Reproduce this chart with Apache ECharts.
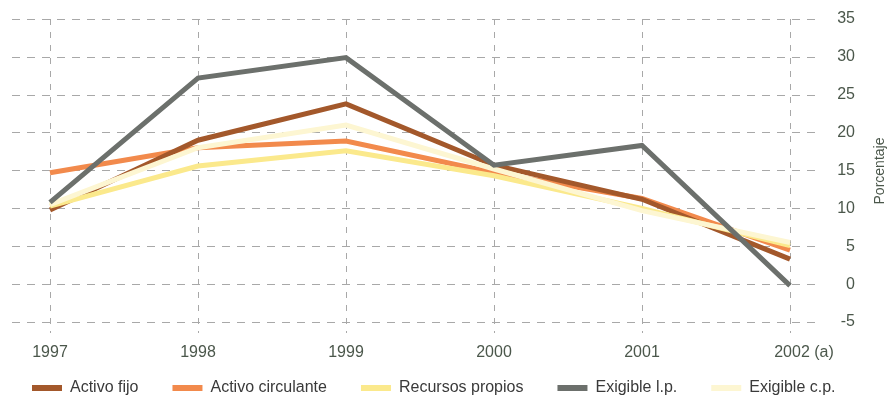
<!DOCTYPE html>
<html>
<head>
<meta charset="utf-8">
<script src="https://cdn.jsdelivr.net/npm/echarts@6/dist/echarts.min.js"></script>
<style>
  html, body { margin: 0; padding: 0; background: #ffffff; }
  #chart { width: 887px; height: 397px; }
</style>
</head>
<body>
<div id="chart"></div>
<script>
  // años y valores (porcentaje)
  var years = ["1997", "1998", "1999", "2000", "2001", "2002 (a)"];
  var activoFijo = [9.8, 19.0, 23.8, 15.7, 11.2, 3.3];
  var activoCirculante = [14.7, 18.0, 18.9, 14.7, 11.3, 4.5];
  var recursosPropios = [10.3, 15.6, 17.6, 14.3, 10.0, 5.1];
  var exigibleLP = [10.8, 27.2, 29.9, 15.7, 18.3, -0.2];
  var exigibleCP = [10.5, 18.0, 21.0, 15.2, 9.7, 5.5];
  var yTicks = [-5, 0, 5, 10, 15, 20, 25, 30, 35];

  var names = ["Activo fijo", "Activo circulante", "Recursos propios", "Exigible l.p.", "Exigible c.p."];
  var colors = {
    "Activo fijo": "#a3582b",
    "Activo circulante": "#f28a4c",
    "Recursos propios": "#fbe98c",
    "Exigible l.p.": "#6c706c",
    "Exigible c.p.": "#fdf6d2"
  };
  var values = {
    "Activo fijo": activoFijo,
    "Activo circulante": activoCirculante,
    "Recursos propios": recursosPropios,
    "Exigible l.p.": exigibleLP,
    "Exigible c.p.": exigibleCP
  };
  // orden de dibujo (el gris encima)
  var drawOrder = ["Activo circulante", "Activo fijo", "Recursos propios", "Exigible c.p.", "Exigible l.p."];

  var labelColor = "#4b574b";
  var gridColor = "#a8a8a8";
  var font = "'Liberation Sans', Arial, sans-serif";

  var xData = years.map(function (y, i) {
    if (i === years.length - 1) {
      return { value: y, textStyle: { padding: [0, 0, 0, 28] } };
    }
    return y;
  });

  var chart = echarts.init(document.getElementById("chart"), null, { renderer: "canvas" });

  chart.setOption({
    animation: false,
    backgroundColor: "#ffffff",
    textStyle: { fontFamily: font },
    legend: {
      data: names.map(function (n) { return { name: n, icon: "rect" }; }),
      left: 27,
      top: 375,
      itemWidth: 30,
      itemHeight: 6,
      itemGap: 34,
      textStyle: { fontSize: 16, color: "#3a3a3a", fontFamily: font, padding: [0, 0, 0, 3] }
    },
    grid: [
      { left: 50, right: 97, top: 19, bottom: 64 },
      { left: 12, right: 69, top: 19, bottom: 75 }
    ],
    xAxis: [
      {
        gridIndex: 0,
        type: "category",
        data: xData,
        boundaryGap: false,
        axisLine: { show: false },
        axisTick: { show: false },
        axisLabel: { color: labelColor, fontSize: 16, margin: 12, fontFamily: font },
        splitLine: { show: true, lineStyle: { color: gridColor, type: [6, 7], width: 1 } }
      },
      {
        gridIndex: 1,
        type: "value",
        min: 0,
        max: 1,
        show: false
      }
    ],
    yAxis: [
      {
        gridIndex: 0,
        type: "value",
        min: -6.45,
        max: 35,
        show: false
      },
      {
        gridIndex: 1,
        type: "value",
        position: "right",
        min: yTicks[0],
        max: yTicks[yTicks.length - 1],
        interval: 5,
        axisLine: { show: false },
        axisTick: { show: false },
        axisLabel: { color: labelColor, fontSize: 16, margin: 37, align: "right", fontFamily: font },
        splitLine: { show: true, lineStyle: { color: gridColor, type: [8, 7], width: 1 } }
      }
    ],
    graphic: [
      {
        type: "text",
        x: 880,
        y: 171,
        rotation: Math.PI / 2,
        style: {
          text: "Porcentaje",
          fill: labelColor,
          font: "14px " + font,
          align: "center",
          verticalAlign: "middle"
        }
      }
    ],
    series: drawOrder.map(function (n) {
      return {
        name: n,
        type: "line",
        xAxisIndex: 0,
        yAxisIndex: 0,
        data: values[n],
        symbol: "none",
        lineStyle: { color: colors[n], width: 5, join: "miter" },
        itemStyle: { color: colors[n] }
      };
    })
  });
</script>
</body>
</html>
